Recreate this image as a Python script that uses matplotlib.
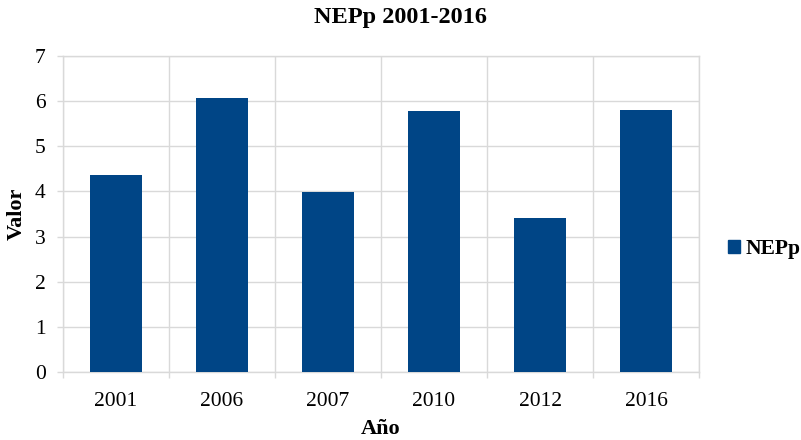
import matplotlib
matplotlib.use('Agg')
import matplotlib.pyplot as plt
import numpy as np
from matplotlib.patches import Patch

anios = ['2001', '2006', '2007', '2010', '2012', '2016']
valores = [4.37, 6.06, 3.99, 5.77, 3.41, 5.80]
y_ticks = [0, 1, 2, 3, 4, 5, 6, 7]

plt.rcParams['font.family'] = ['Liberation Serif', 'DejaVu Serif']

fig = plt.figure(figsize=(8.01, 4.40), dpi=100)
fig.set_facecolor('white')
ax = fig.add_axes([63 / 801, 67.7 / 440, 636 / 801, 316.6 / 440])

x = np.arange(len(anios))
ax.bar(x, valores, width=0.49, color='#004586', zorder=3)

ax.set_xlim(-0.5, len(anios) - 0.5)
ax.set_ylim(0, 7)

grid_c = '#d9d9d9'
ax.set_xticks(x)
ax.set_xticklabels(anios)
ax.set_xticks(np.arange(-0.5, len(anios)), minor=True)
ax.set_yticks(y_ticks)

ax.tick_params(axis='x', which='major', length=0, pad=14, labelsize=15.5)
ax.tick_params(axis='x', which='minor', length=4.5, width=1, color=grid_c)
ax.tick_params(axis='y', which='major', length=4.5, width=1, color=grid_c, pad=8, labelsize=15.5)

ax.grid(True, axis='y', which='major', color=grid_c, lw=1, zorder=0)
ax.grid(True, axis='x', which='minor', color=grid_c, lw=1, zorder=0)
ax.grid(False, axis='x', which='major')

for s in ax.spines.values():
    s.set_color(grid_c)
    s.set_linewidth(1)

# el titulo va centrado en la figura, no en el eje
fig.text(0.5, 1 - 18 / 440, 'NEPp 2001-2016', ha='center', va='center',
         fontsize=17.5, fontweight='bold')
ax.set_xlabel('Año', fontsize=16, fontweight='bold', labelpad=6)
ax.set_ylabel('Valor', fontsize=16, fontweight='bold', labelpad=6)

ax.legend(handles=[Patch(color='#004586', label='NEPp')], loc='center left',
          bbox_to_anchor=(728 / 801, 1 - 249 / 440), bbox_transform=fig.transFigure,
          frameon=False, prop={'weight': 'bold', 'size': 15.5},
          handlelength=0.55, handleheight=0.55, handletextpad=0.25,
          borderaxespad=0, borderpad=0)

plt.savefig('out.png', dpi=100)
